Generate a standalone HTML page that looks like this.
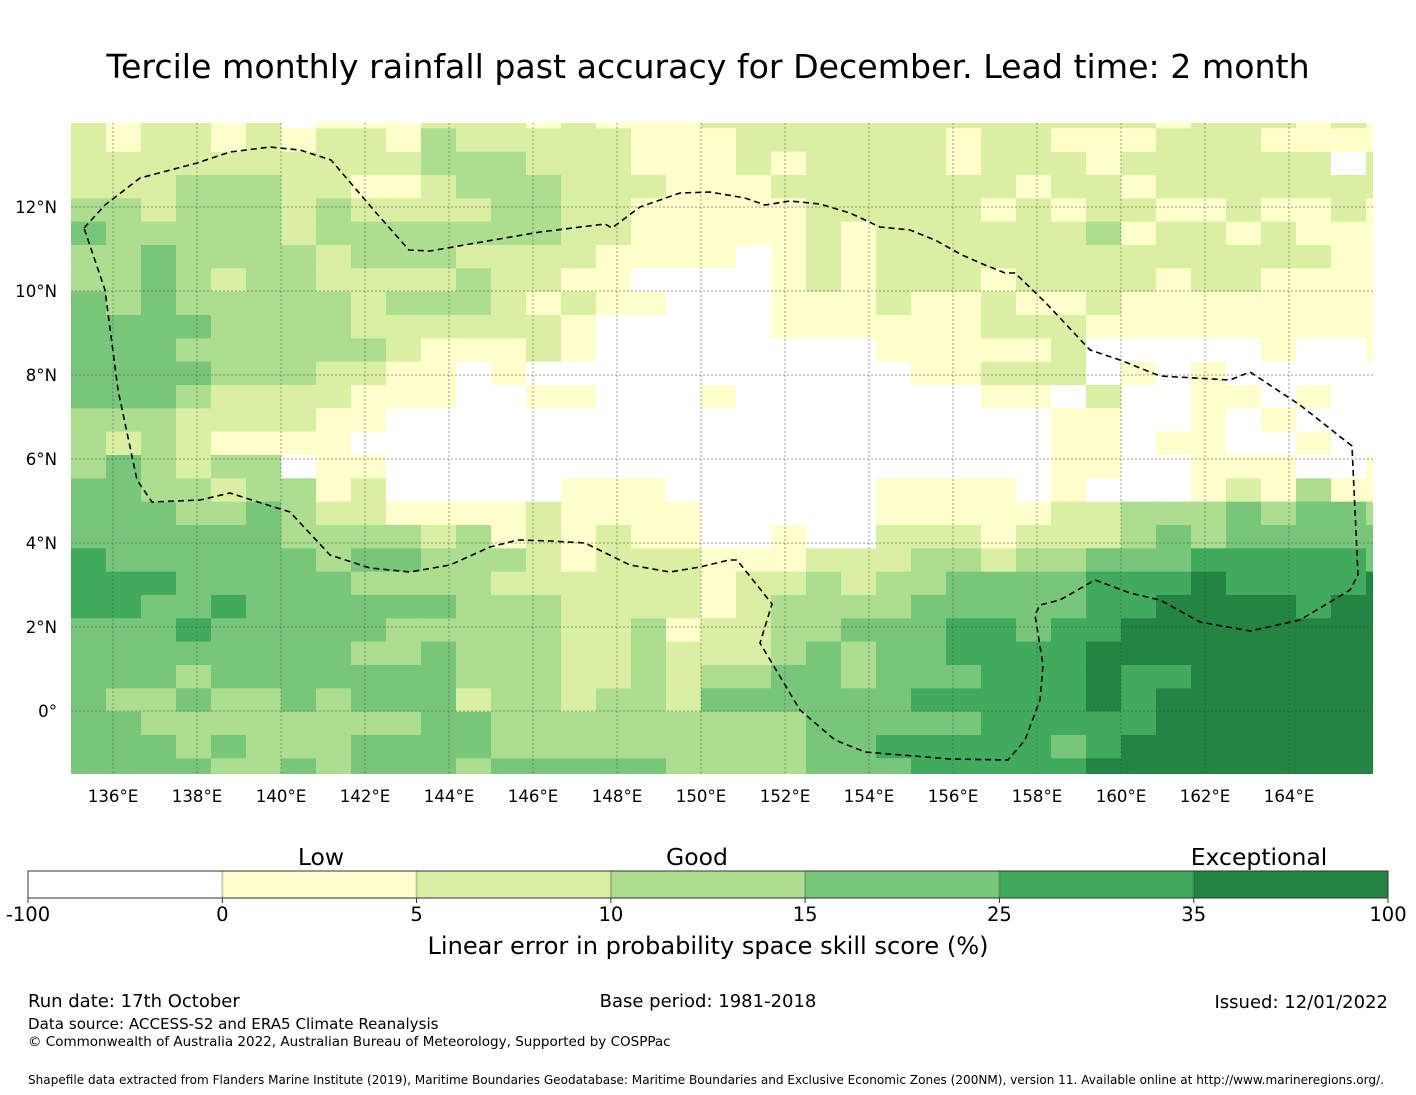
<!DOCTYPE html>
<html><head><meta charset="utf-8">
<style>
html,body{margin:0;padding:0;background:#fff;}
svg{display:block;font-family:"DejaVu Sans","Liberation Sans",sans-serif;}
</style></head>
<body>
<svg id="fig" width="1416" height="1095" viewBox="0 0 1416 1095" xmlns="http://www.w3.org/2000/svg">
<rect width="1416" height="1095" fill="#fff"/>
<text x="708" y="78" font-size="33.2" text-anchor="middle">Tercile monthly rainfall past accuracy for December. Lead time: 2 month</text>
<defs><clipPath id="mapclip"><rect x="71" y="123" width="1302" height="651"/></clipPath></defs>
<g id="cells" clip-path="url(#mapclip)"></g>
<g id="grid" clip-path="url(#mapclip)"></g>
<polyline clip-path="url(#mapclip)" fill="none" stroke="#000" stroke-width="1.6" stroke-dasharray="6,4"
points="84,228 105,205 140,178 197,163 230,152 270,147 300,150 331,160 378,215 409,250 430,251 470,244 540,232 605,224 612,228 640,207 680,193 710,192 745,198 765,205 790,201 820,204 850,213 880,227 910,230 935,240 962,255 985,265 1005,273 1015,273 1045,302 1090,350 1120,360 1160,376 1230,380 1250,372 1300,405 1352,446 1358,575 1350,590 1300,620 1250,631 1200,622 1160,600 1130,593 1095,580 1060,600 1040,605 1035,615 1043,665 1040,700 1025,740 1008,760 950,759 865,752 835,740 800,710 760,643 772,604 737,560 729,560 700,567 670,572 630,565 585,543 550,541 518,540 490,547 450,565 410,572 370,568 330,555 290,512 258,502 230,493 200,500 152,502 137,480 118,390 105,290 84,228"/>
<g id="xlabels"></g>
<g id="ylabels"></g>
<g id="cbar"></g>
<text x="321" y="865" font-size="23.5" text-anchor="middle">Low</text>
<text x="697" y="865" font-size="23.5" text-anchor="middle">Good</text>
<text x="1259" y="865" font-size="23.5" text-anchor="middle">Exceptional</text>
<text x="708" y="954" font-size="24.1" text-anchor="middle">Linear error in probability space skill score (%)</text>
<text x="28" y="1007" font-size="18">Run date: 17th October</text>
<text x="708" y="1007" font-size="18" text-anchor="middle">Base period: 1981-2018</text>
<text x="1388" y="1008" font-size="18" text-anchor="end">Issued: 12/01/2022</text>
<text x="28" y="1029" font-size="15.1">Data source: ACCESS-S2 and ERA5 Climate Reanalysis</text>
<text x="28" y="1046" font-size="13.5">© Commonwealth of Australia 2022, Australian Bureau of Meteorology, Supported by COSPPac</text>
<text x="28" y="1084" font-size="12.07">Shapefile data extracted from Flanders Marine Institute (2019), Maritime Boundaries Geodatabase: Maritime Boundaries and Exclusive Economic Zones (200NM), version 11. Available online at http://www.marineregions.org/.</text>
</svg>
<script>
// category per cell (0=<0,1=0-5,2=5-10,3=10-15,4=15-25,5=25-35,6=35-100), rows north->south, cols west->east
const skillRows = [
"21221201112221211122222222222221222121",
"21221212213222221112222221221112221111",
"22222222223332221112122221222122222202",
"22233322112333222111222222212212222222",
"33233323222233221111122222121221121121",
"43333323333333221111121222222312212111",
"33433332333222211110121222222222222211",
"33432332222322110000121222122221221111",
"43433333233321211000111211211211111111",
"44443333222222100000111111222111111111",
"44433333321112100000000111112000001001",
"44443332211010000000000011222010100000",
"44432222111001100010000000110200110100",
"33322221100000000000000000001100101000",
"32321111000000000000000000001101100100",
"34323301100000000000000000001100111001",
"44332331200000111000000111101000121311",
"44433432211112111100000111112233343443",
"44444433332312121100100222122234344444",
"54444443443332122211122233233444555554",
"55544444333322222212232334444555655556",
"55445444444333222212333344444556666566",
"44454444433333223122334445545566666666",
"44444444334333223222343445555666666666",
"44434444444333223233443444555655666666",
"43343343444233233244444455555656666666",
"44333333334433333333344444555556666666",
"44434333444433333333344555554566666666",
"44443343444344444333344455555666666666"
];
const catColors = ["#ffffff","#ffffcc","#d9f0a3","#addd8e","#78c679","#41ab5d","#238443"];
const lonTicks = [136,138,140,142,144,146,148,150,152,154,156,158,160,162,164];
const latTicks = [0,2,4,6,8,10,12];
const cbarBounds = ["-100","0","5","10","15","25","35","100"];

const NS="http://www.w3.org/2000/svg";
const lonX = lon => 113 + (lon-136)*42;
const latY = lat => 711 - lat*42;
const colX = j => 71 + j*35;
const rowY = i => 105 + i*23.333;

const cells=document.getElementById('cells');
skillRows.forEach((row,i)=>{
  for(let j=0;j<row.length;j++){
    const r=document.createElementNS(NS,'rect');
    r.setAttribute('x',colX(j));
    r.setAttribute('y',rowY(i));
    r.setAttribute('width',35.6);
    r.setAttribute('height',23.9);
    r.setAttribute('fill',catColors[+row[j]]);
    
    
    cells.appendChild(r);
  }
});
const grid=document.getElementById('grid');
const xl=document.getElementById('xlabels');
lonTicks.forEach(lon=>{
  const l=document.createElementNS(NS,'line');
  l.setAttribute('x1',lonX(lon));l.setAttribute('x2',lonX(lon));
  l.setAttribute('y1',123);l.setAttribute('y2',774);
  l.setAttribute('stroke','#444');l.setAttribute('stroke-width','0.7');l.setAttribute('stroke-dasharray','2,2');l.setAttribute('opacity','0.7');
  
  
  grid.appendChild(l);
  const t=document.createElementNS(NS,'text');
  t.setAttribute('x',lonX(lon));t.setAttribute('y',802);
  t.setAttribute('font-size','16.6');t.setAttribute('text-anchor','middle');
  t.textContent=lon+'°E';
  
  
  xl.appendChild(t);
});
const yl=document.getElementById('ylabels');
latTicks.forEach(lat=>{
  const l=document.createElementNS(NS,'line');
  l.setAttribute('x1',71);l.setAttribute('x2',1373);
  l.setAttribute('y1',latY(lat));l.setAttribute('y2',latY(lat));
  l.setAttribute('stroke','#444');l.setAttribute('stroke-width','0.7');l.setAttribute('stroke-dasharray','2,2');l.setAttribute('opacity','0.7');
  
  
  grid.appendChild(l);
  const t=document.createElementNS(NS,'text');
  t.setAttribute('x',57);t.setAttribute('y',latY(lat)+6);
  t.setAttribute('font-size','16.6');t.setAttribute('text-anchor','end');
  t.textContent=lat===0?'0°':lat+'°N';
  
  
  yl.appendChild(t);
});
const cb=document.getElementById('cbar');
const segW=(1388-28)/7;
catColors.forEach((c,k)=>{
  const r=document.createElementNS(NS,'rect');
  r.setAttribute('x',28+k*segW);r.setAttribute('y',871);
  r.setAttribute('width',segW);r.setAttribute('height',27);
  r.setAttribute('fill',c);
  
  
  cb.appendChild(r);
  if(k>0){
    const s=document.createElementNS(NS,'line');
    s.setAttribute('x1',28+k*segW);s.setAttribute('x2',28+k*segW);
    s.setAttribute('y1',871);s.setAttribute('y2',898);
    s.setAttribute('stroke','#000');s.setAttribute('stroke-opacity','0.2');s.setAttribute('stroke-width','2');
    
    
    cb.appendChild(s);
  }
});
const ob=document.createElementNS(NS,'rect');
ob.setAttribute('x',28);ob.setAttribute('y',871);ob.setAttribute('width',1360);ob.setAttribute('height',27);
ob.setAttribute('fill','none');ob.setAttribute('stroke','#333');ob.setAttribute('stroke-width','1');


cb.appendChild(ob);
cbarBounds.forEach((lab,k)=>{
  const x=28+k*segW;
  const tk=document.createElementNS(NS,'line');
  tk.setAttribute('x1',x);tk.setAttribute('x2',x);tk.setAttribute('y1',898);tk.setAttribute('y2',903);
  tk.setAttribute('stroke','#333');
  
  
  cb.appendChild(tk);
  const t=document.createElementNS(NS,'text');
  t.setAttribute('x',x);t.setAttribute('y',921);
  t.setAttribute('font-size','19.5');t.setAttribute('text-anchor','middle');
  t.textContent=lab;
  
  
  cb.appendChild(t);
});
</script>
</body></html>
